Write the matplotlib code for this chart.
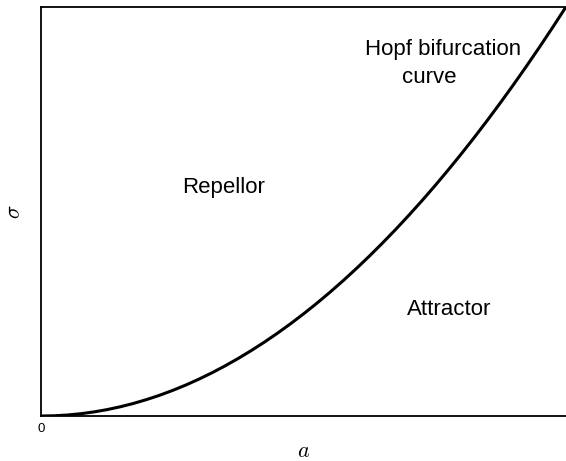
import numpy as np
import matplotlib
matplotlib.use("Agg")
import matplotlib.pyplot as plt

plt.rcParams['font.family'] = ['Liberation Sans', 'DejaVu Sans']
plt.rcParams['mathtext.fontset'] = 'cm'

# points (a, sigma), both scaled to [0, 1]
a_vals = [0.0, 0.025, 0.05, 0.075, 0.1, 0.125, 0.15, 0.175, 0.2, 0.225, 0.25,
          0.275, 0.3, 0.325, 0.35, 0.375, 0.4, 0.425, 0.45, 0.475, 0.5,
          0.525, 0.55, 0.575, 0.6, 0.625, 0.65, 0.675, 0.7, 0.725, 0.75,
          0.775, 0.8, 0.825, 0.85, 0.875, 0.9, 0.925, 0.95, 0.975, 1.0]
sigma_vals = [0.0, 0.0006, 0.0025, 0.0056, 0.01, 0.0156, 0.0225, 0.0306, 0.04, 0.0506, 0.0625,
              0.0756, 0.09, 0.1056, 0.1225, 0.1406, 0.16, 0.1806, 0.2025, 0.2256, 0.25,
              0.2756, 0.3025, 0.3306, 0.36, 0.3906, 0.4225, 0.4556, 0.49, 0.5256, 0.5625,
              0.6006, 0.64, 0.6806, 0.7225, 0.7656, 0.81, 0.8556, 0.9025, 0.9506, 1.0]

x_ticks = [0]
x_tick_labels = ["0"]

fig = plt.figure(figsize=(5.66, 4.61), dpi=100)
ax = fig.add_axes([0.0733, 0.0976, 0.9267, 0.8876])

ax.plot(a_vals, sigma_vals, color='black', lw=2.2, solid_capstyle='butt')

ax.set_xlim(0, 1)
ax.set_ylim(0, 1)
ax.set_xticks(x_ticks)
ax.set_xticklabels(x_tick_labels, fontsize=9.5)
ax.set_yticks([])
ax.tick_params(axis='x', length=0, pad=5)
ax.spines['right'].set_visible(False)
for s in ['left', 'top', 'bottom']:
    ax.spines[s].set_linewidth(1.3)

ax.set_xlabel(r'$a$', fontsize=16, labelpad=4)
ax.set_ylabel(r'$\sigma$', fontsize=16, labelpad=12)

ax.text(0.347, 0.545, "Repellor", fontsize=16, ha='center', va='baseline', transform=ax.transAxes)
ax.text(0.778, 0.247, "Attractor", fontsize=16, ha='center', va='baseline', transform=ax.transAxes)
ax.text(0.765, 0.883, "Hopf bifurcation", fontsize=16, ha='center', va='baseline',
        transform=ax.transAxes)
ax.text(0.740, 0.814, "curve", fontsize=16, ha='center', va='baseline',
        transform=ax.transAxes)

fig.savefig("out.png", dpi=100)
